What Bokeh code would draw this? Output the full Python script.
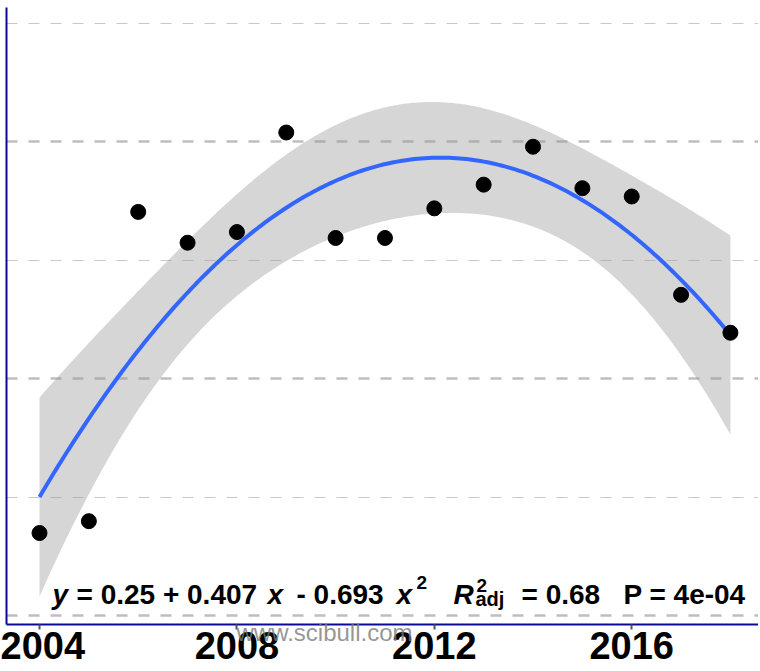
import numpy as np
from bokeh.plotting import figure
from bokeh.models import Range1d, FixedTicker, Label
from bokeh.embed import file_html
from bokeh.resources import INLINE

# ---------------- data ----------------
years = [2004, 2005, 2006, 2007, 2008, 2009, 2010, 2011,
         2012, 2013, 2014, 2015, 2016, 2017, 2018]
values = [0.70, 0.80, 3.41, 3.15, 3.24, 4.08, 3.19, 3.19,
          3.44, 3.64, 3.96, 3.61, 3.54, 2.71, 2.39]
x_ticks = [2004, 2008, 2012, 2016]
y_major = [0, 2, 4]
y_minor = [1, 3, 5]
equation = ["y", "= 0.25 + 0.407", "x", "- 0.693", "x", "2"]
r2_text = ["R", "2", "adj", "= 0.68"]
p_text = "P = 4e-04"
watermark = "www.scibull.com"

# ---------------- quadratic fit with 95% confidence band ----------------
x = np.array(years, dtype=float)
y = np.array(values, dtype=float)
xm = x.mean()
X = np.column_stack([np.ones_like(x), x - xm, (x - xm) ** 2])
beta, *_ = np.linalg.lstsq(X, y, rcond=None)
resid = y - X @ beta
n, k = X.shape
s2 = resid @ resid / (n - k)
XtXi = np.linalg.inv(X.T @ X)
xg = np.linspace(x.min(), x.max(), 200)
Xg = np.column_stack([np.ones_like(xg), xg - xm, (xg - xm) ** 2])
fit = Xg @ beta
se = np.sqrt(s2 * np.einsum("ij,jk,ik->i", Xg, XtXi, Xg))
T975 = 2.1788  # t quantile, df = 12
lower = fit - T975 * se
upper = fit + T975 * se

# ---------------- figure ----------------
X0, X1 = 2003.331, 2018.569
Y0, Y1 = -0.072, 5.135
FRAME_W, FRAME_H = 752, 617
BORDER_L, BORDER_T = 6, 7

p = figure(frame_width=FRAME_W, frame_height=FRAME_H,
           x_range=Range1d(X0, X1), y_range=Range1d(Y0, Y1),
           output_backend="svg", toolbar_location=None,
           min_border_left=BORDER_L, min_border_right=0,
           min_border_top=BORDER_T, min_border_bottom=46)
p.outline_line_color = None
p.background_fill_color = "white"
p.border_fill_color = "white"

# grid
p.xgrid.visible = False
p.ygrid.ticker = FixedTicker(ticks=y_major, minor_ticks=y_minor)
p.ygrid.grid_line_color = "#BEBEBE"
p.ygrid.grid_line_width = 2.5
p.ygrid.grid_line_dash = "11 11"
p.ygrid.minor_grid_line_color = "#C8C8C8"
p.ygrid.minor_grid_line_width = 1.2
p.ygrid.minor_grid_line_dash = "11 11"

# axes
p.xaxis.ticker = FixedTicker(ticks=x_ticks)
p.xaxis.axis_line_color = "#0A0A96"
p.xaxis.axis_line_width = 2
p.xaxis.major_tick_line_color = "#555555"
p.xaxis.major_tick_line_width = 2
p.xaxis.major_tick_out = 5
p.xaxis.major_tick_in = 0
p.xaxis.minor_tick_line_color = None
p.xaxis.major_label_standoff = 2
p.xaxis.major_label_text_font = "Liberation Sans"
p.xaxis.major_label_text_font_style = "bold"
p.xaxis.major_label_text_font_size = "38px"
p.xaxis.major_label_text_color = "black"

p.yaxis.ticker = FixedTicker(ticks=[])
p.yaxis.axis_line_color = "#0A0A96"
p.yaxis.axis_line_width = 2
p.yaxis.major_tick_line_color = None
p.yaxis.minor_tick_line_color = None
p.yaxis.major_tick_out = 0
p.yaxis.major_label_standoff = 0

# band, fit, points
p.varea(x=xg, y1=lower, y2=upper, fill_color="#999999", fill_alpha=0.4)
p.line(xg, fit, line_color="#3366FF", line_width=4)
p.scatter(years, values, size=15, fill_color="black", line_color="black")

# ---------------- annotation text (positions in page pixels) ----------------
FL, FT = 7, 8  # page position of the frame's top-left corner
FB = FT + FRAME_H
PX_X = FRAME_W / (X1 - X0)
PX_Y = FRAME_H / (Y1 - Y0)


def dx(px):
    return X0 + (px - FL) / PX_X


def dy(py):
    return Y1 - (py - FT) / PX_Y


def put(txt, px, py, size, style="bold", color="black", alpha=1.0):
    p.add_layout(Label(x=dx(px), y=dy(py), text=txt, text_font="Liberation Sans",
                       text_font_style=style, text_font_size=f"{size}px",
                       text_color=color, text_alpha=alpha, text_baseline="alphabetic",
                       text_align="left"))


BASE = 595
put(equation[0], 53, BASE, 28, "bold italic")
put(equation[1], 77, BASE, 28)
put(equation[2], 268, BASE, 28, "bold italic")
put(equation[3], 297, BASE, 28)
put(equation[4], 397, BASE, 28, "bold italic")
put(equation[5], 417, 583, 19)
put(r2_text[0], 454, BASE, 28, "bold italic")
put(r2_text[1], 477, 586, 19)
put(r2_text[2], 476, 599, 20)
put(r2_text[3], 522, BASE, 28)
put(p_text, 624, BASE, 28)

# watermark in the panel below the frame (not clipped to the frame)
p.add_layout(Label(x=dx(237), y=56, x_units="data", y_units="screen",
                   text=watermark, text_font="Liberation Sans", text_font_size="24px",
                   text_color="#7A7A7A", text_alpha=0.8, text_baseline="alphabetic",
                   text_align="left"), "below")

open("out.html", "w").write(file_html(p, INLINE))
